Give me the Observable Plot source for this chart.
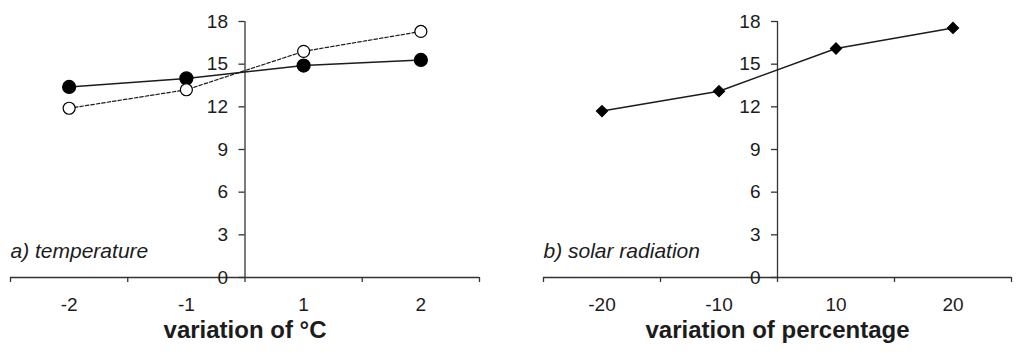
<!DOCTYPE html>
<html>
<head>
<meta charset="utf-8">
<script src="https://cdn.jsdelivr.net/npm/d3@7"></script>
<script src="https://cdn.jsdelivr.net/npm/@observablehq/plot@0.6"></script>
<style>
  html, body { margin: 0; padding: 0; background: #fff; }
  #wrap { display: flex; width: 1024px; height: 355px; }
  svg { font-family: "Liberation Sans", Arial, sans-serif; }
</style>
</head>
<body>
<div id="wrap"></div>
<script>
// ---- data ----
const yTicks = [0, 3, 6, 9, 12, 15, 18];

const tempCategories = ["-2", "-1", "1", "2"];
const tempFilled = [13.4, 14.0, 14.9, 15.3];   // solid line, filled circles
const tempOpen = [11.9, 13.2, 15.9, 17.3];     // dashed line, open circles
const tempPanelLabel = "a) temperature";
const tempAxisTitle = "variation of °C";

const solarCategories = ["-20", "-10", "10", "20"];
const solarValues = [11.7, 13.1, 16.1, 17.55]; // solid line, diamonds
const solarPanelLabel = "b) solar radiation";
const solarAxisTitle = "variation of percentage";

const INK = "#1c1c1c";

function panel({categories, series, panelLabel, axisTitle, marginLeft, marginRight}) {
  const n = categories.length;
  const idx = d3.range(n);
  const bounds = d3.range(n + 1).map(i => i - 0.5);
  const mid = (n - 1) / 2;
  const marks = [
    Plot.ruleY([0], {stroke: "#333", strokeWidth: 1.3}),
    Plot.ruleX([mid], {y1: 0, y2: 18, stroke: "#333", strokeWidth: 1.3}),
    Plot.axisX(bounds, {tickSize: 5, fill: "none", stroke: "#333", strokeWidth: 1.3, label: null}),
    Plot.axisX(idx, {tickSize: 0, tickPadding: 20, tickFormat: i => categories[i], fontSize: 19, fill: INK, label: null}),
    Plot.axisY(yTicks, {x: mid, tickSize: 6, tickPadding: 11, fontSize: 19, fill: INK, stroke: "#333", strokeWidth: 1.3, label: null}),
    Plot.text([panelLabel], {frameAnchor: "bottom-left", textAnchor: "start", dy: -20, fontSize: 21, fontStyle: "italic", fill: INK}),
    Plot.text([axisTitle], {frameAnchor: "bottom", dy: 60, fontSize: 24, fontWeight: "bold", fill: INK})
  ];
  for (const s of series) {
    const data = s.values.map((v, i) => ({i, v}));
    marks.push(Plot.line(data, {x: "i", y: "v", stroke: INK, strokeWidth: s.dashed ? 1.2 : 1.5, strokeDasharray: s.dashed ? "3.5,2" : null}));
  }
  for (const s of series) {
    const data = s.values.map((v, i) => ({i, v}));
    marks.push(Plot.dot(data, {x: "i", y: "v", r: s.r, symbol: s.symbol, fill: s.fill, stroke: s.stroke, strokeWidth: 1.2}));
  }
  return Plot.plot({
    width: 512,
    height: 355,
    marginTop: 21,
    marginBottom: 78,
    marginLeft,
    marginRight,
    style: {fontFamily: "Liberation Sans, Arial, sans-serif", color: INK, background: "#fff"},
    x: {type: "linear", domain: [-0.5, n - 0.5]},
    y: {domain: [0, 18]},
    marks
  });
}

const wrap = document.getElementById("wrap");
wrap.appendChild(panel({
  categories: tempCategories,
  series: [
    {values: tempFilled, dashed: false, symbol: "circle", r: 6.5, fill: "#000", stroke: "#000"},
    {values: tempOpen, dashed: true, symbol: "circle", r: 6, fill: "#fff", stroke: "#000"}
  ],
  panelLabel: tempPanelLabel,
  axisTitle: tempAxisTitle,
  marginLeft: 10,
  marginRight: 33
}));
wrap.appendChild(panel({
  categories: solarCategories,
  series: [
    {values: solarValues, dashed: false, symbol: "diamond2", r: 5, fill: "#000", stroke: "#000"}
  ],
  panelLabel: solarPanelLabel,
  axisTitle: solarAxisTitle,
  marginLeft: 31,
  marginRight: 13
}));
</script>
</body>
</html>
